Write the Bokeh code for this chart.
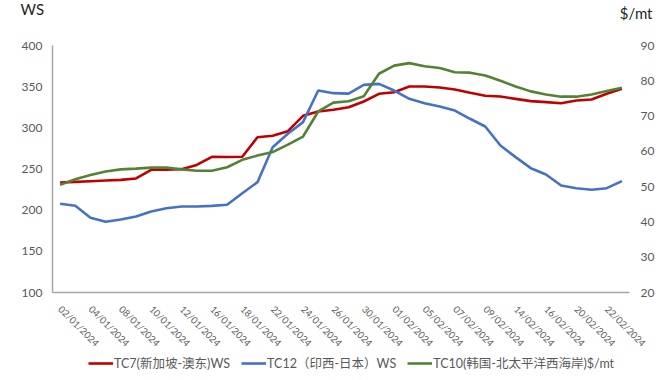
import math
from bokeh.plotting import figure
from bokeh.layouts import column
from bokeh.models import (Range1d, LinearAxis, FixedTicker, Legend, LegendItem,
                          Label, ColumnDataSource)
from bokeh.embed import file_html
from bokeh.resources import INLINE

dates = ["02/01/2024", "03/01/2024", "04/01/2024", "05/01/2024", "08/01/2024",
         "09/01/2024", "10/01/2024", "11/01/2024", "12/01/2024", "15/01/2024",
         "16/01/2024", "17/01/2024", "18/01/2024", "19/01/2024", "22/01/2024",
         "23/01/2024", "24/01/2024", "25/01/2024", "26/01/2024", "29/01/2024",
         "30/01/2024", "31/01/2024", "01/02/2024", "02/02/2024", "05/02/2024",
         "06/02/2024", "07/02/2024", "08/02/2024", "09/02/2024", "13/02/2024",
         "14/02/2024", "15/02/2024", "16/02/2024", "19/02/2024", "20/02/2024",
         "21/02/2024", "22/02/2024", "23/02/2024"]

tc7_ws = [233.6, 234.4, 235.2, 236.0, 236.8, 238.5, 249.0, 249.0, 249.8, 255.0,
          264.8, 264.6, 264.8, 288.6, 290.3, 295.9, 314.6, 319.8, 321.9, 325.1,
          332.0, 341.3, 343.3, 350.2, 350.2, 349.0, 346.6, 342.5, 338.9, 338.0,
          335.2, 332.4, 331.2, 329.9, 333.2, 334.4, 341.3, 347.4]

tc12_ws = [207.7, 205.3, 190.7, 185.9, 188.7, 192.3, 198.4, 202.4, 204.4, 204.4,
           205.2, 206.5, 220.6, 234.0, 276.5, 292.7, 306.9, 345.3, 342.1, 341.5,
           352.2, 353.4, 345.3, 335.3, 329.9, 325.9, 321.0, 311.0, 301.6, 278.5,
           264.4, 251.0, 243.3, 230.0, 226.7, 224.7, 226.7, 235.2]

tc10_usd = [50.5, 52.1, 53.3, 54.3, 54.9, 55.1, 55.4, 55.4, 54.9, 54.5,
            54.5, 55.5, 57.6, 58.8, 59.8, 61.9, 64.2, 71.3, 73.8, 74.2,
            75.6, 82.0, 84.3, 85.0, 84.1, 83.6, 82.4, 82.3, 81.5, 80.0,
            78.4, 77.0, 76.1, 75.5, 75.5, 76.1, 77.1, 78.0]

ws_ticks = [100, 150, 200, 250, 300, 350, 400]
usd_ticks = [20, 30, 40, 50, 60, 70, 80, 90]
unit_left = "WS"
unit_right = "$/mt"
legend_labels = ["TC7(新加坡-澳东)WS", "TC12（印西-日本）WS", "TC10(韩国-北太平洋西海岸)$/mt"]
colors = ["#C00000", "#4472C4", "#548235"]

FONT = "Lato, 'Noto Sans CJK SC', sans-serif"
GREY = "#595959"
LW = 2.6

idx = list(range(len(dates)))
src = ColumnDataSource(dict(x=idx, tc7=tc7_ws, tc12=tc12_ws, tc10=tc10_usd))

p = figure(frame_width=577, frame_height=247,
           output_backend="svg", toolbar_location=None,
           x_range=Range1d(-0.5, len(dates) - 0.5), y_range=Range1d(100, 400),
           min_border_left=52, min_border_right=25, min_border_top=45,
           min_border_bottom=30)
p.outline_line_color = None
p.xgrid.visible = False
p.ygrid.visible = False
p.extra_y_ranges = {"usd": Range1d(20, 90)}

p.line("x", "tc7", source=src, line_color=colors[0], line_width=LW)
p.line("x", "tc12", source=src, line_color=colors[1], line_width=LW)
p.line("x", "tc10", source=src, line_color=colors[2], line_width=LW,
       y_range_name="usd")

# x axis
xa = p.xaxis[0]
xa.ticker = FixedTicker(ticks=idx[::2])
xa.major_label_overrides = {i: dates[i] for i in idx[::2]}
xa.major_label_orientation = -math.pi / 4
xa.major_label_text_font_size = "9.5px"
xa.major_label_text_font = FONT
xa.major_label_text_color = GREY
xa.major_tick_line_color = None
xa.minor_tick_line_color = None
xa.major_tick_out = 0
xa.major_tick_in = 0
xa.major_label_standoff = 15
xa.axis_line_color = "#A6A6A6"
xa.axis_line_width = 1.5

# left axis
ya = p.yaxis[0]
ya.ticker = FixedTicker(ticks=ws_ticks)
ya.major_label_text_font_size = "12px"
ya.major_label_text_font = FONT
ya.major_label_text_color = GREY
ya.major_tick_line_color = None
ya.minor_tick_line_color = None
ya.major_tick_out = 0
ya.major_tick_in = 0
ya.major_label_standoff = 10
ya.axis_line_color = "#A6A6A6"
ya.axis_line_width = 1.5

# right axis
ra = LinearAxis(y_range_name="usd", ticker=FixedTicker(ticks=usd_ticks))
ra.major_label_text_font_size = "12px"
ra.major_label_text_font = FONT
ra.major_label_text_color = GREY
ra.major_tick_line_color = None
ra.minor_tick_line_color = None
ra.major_tick_out = 0
ra.major_tick_in = 0
ra.major_label_standoff = 11
ra.axis_line_color = None
p.add_layout(ra, "right")

# unit captions above the value axes
p.add_layout(Label(x=600, y=33, x_units="screen", y_units="screen", text=unit_right,
                   text_font=FONT, text_font_size="15px", text_color="#1F1F1F",
                   text_align="right", text_baseline="alphabetic"), "above")
p.add_layout(Label(x=-32, y=19, x_units="screen", y_units="screen", text=unit_left,
                   text_font=FONT, text_font_size="15px", text_color="#1F1F1F",
                   text_align="left", text_baseline="alphabetic"), "above")

# legend strip underneath the chart (series drawn out of view, only their keys show)
lg = figure(width=660, height=22, output_backend="svg", toolbar_location=None,
            x_range=Range1d(0, 1), y_range=Range1d(1000, 1001),
            x_axis_location=None, y_axis_location=None, min_border=0)
lg.outline_line_color = None
lg.xgrid.visible = False
lg.ygrid.visible = False
k1 = lg.line("x", "tc7", source=src, line_color=colors[0], line_width=LW)
k2 = lg.line("x", "tc12", source=src, line_color=colors[1], line_width=LW)
k3 = lg.line("x", "tc10", source=src, line_color=colors[2], line_width=LW)
legend = Legend(items=[LegendItem(label=legend_labels[0], renderers=[k1]),
                       LegendItem(label=legend_labels[1], renderers=[k2]),
                       LegendItem(label=legend_labels[2], renderers=[k3])],
                orientation="horizontal", location=(36, 5),
                label_text_font=FONT, label_text_font_size="12.5px",
                label_text_color=GREY, glyph_width=25, glyph_height=14,
                label_height=14, label_standoff=1, spacing=11, padding=0, margin=0,
                border_line_color=None, background_fill_alpha=0)
lg.add_layout(legend, "center")

open("out.html", "w").write(file_html(column(p, lg, spacing=0), INLINE))
